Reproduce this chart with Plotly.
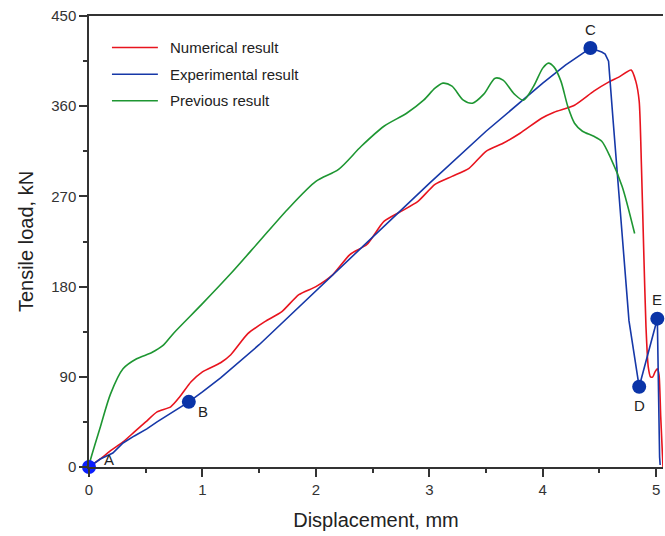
import plotly.graph_objects as go

# Numerical result (red)
num_x = [0, 0.1, 0.2, 0.3, 0.4, 0.5, 0.6, 0.72, 0.8, 0.9, 1.0, 1.16, 1.25, 1.4, 1.55, 1.7, 1.85, 2.0,
         2.15, 2.3, 2.45, 2.6, 2.75, 2.9, 3.05, 3.2, 3.35, 3.5, 3.65, 3.8, 3.99, 4.1, 4.28, 4.45, 4.58,
         4.67, 4.78, 4.82, 4.85, 4.87, 4.89, 4.91, 4.93, 4.95, 4.97, 4.99, 5.01, 5.025, 5.04, 5.06]
num_y = [0, 8, 17, 25, 35, 45, 55, 60, 70, 85, 95, 104, 112, 133, 145, 155, 172, 180,
         192, 212, 222, 245, 255, 265, 282, 290, 298, 315, 323, 333, 348, 354, 361, 375, 384,
         389, 396, 385, 365, 300, 216, 140, 100, 90, 90, 95, 98, 92, 50, 0]

# Experimental result (blue)
exp_x = [0, 0.04, 0.1, 0.21, 0.3, 0.4, 0.51, 0.6, 0.7, 0.8, 0.88, 1.0, 1.16, 1.5, 2.0, 2.5, 3.0, 3.5,
         4.0, 4.2, 4.42, 4.47, 4.52, 4.55, 4.58, 4.62, 4.69, 4.76, 4.85, 5.01, 5.03, 5.035]
exp_y = [0, 3, 8, 14, 24, 31, 38, 45, 52, 59, 65, 75, 89, 122, 176, 230, 283, 335,
         383, 401, 418, 416, 414, 412, 405, 346, 246, 146, 80, 148, 10, 2]

# Previous result (green)
prev_x = [0, 0.01, 0.1, 0.19, 0.3, 0.42, 0.55, 0.65, 0.75, 1.0, 1.25, 1.5, 1.75, 2.0, 2.2, 2.4, 2.6,
          2.8, 2.95, 3.05, 3.12, 3.2, 3.3, 3.38, 3.48, 3.58, 3.65, 3.75, 3.83, 3.92, 4.0, 4.05,
          4.1, 4.16, 4.22, 4.28, 4.35, 4.45, 4.52, 4.6, 4.7, 4.81]
prev_y = [0, 6, 40, 73, 98, 108, 114, 121, 134, 163, 193, 225, 257, 285, 297, 320, 340,
          353, 366, 378, 383, 380, 366, 363, 372, 388, 386, 372, 366, 380, 398, 403,
          399, 385, 360, 343, 335, 330, 325, 308, 280, 233]

# Key points on experimental curve
pt_labels = ["A", "B", "C", "D", "E"]
pt_x = [0, 0.88, 4.42, 4.85, 5.01]
pt_y = [0, 65, 418, 80, 148]
pt_xshift = [20, 14, 0, 0, 0]
pt_yshift = [8, -10, 19, -19, 19]

# Legend entries
legend_names = ["Numerical result", "Experimental result", "Previous result"]

RED = "#e8141e"
BLUE = "#1638a8"
GREEN = "#1e9632"
colors = [RED, BLUE, GREEN]

fig = go.Figure()
fig.add_trace(go.Scatter(x=num_x, y=num_y, mode="lines", name=legend_names[0],
                         line=dict(color=RED, width=1.6, shape="spline", smoothing=0.6),
                         showlegend=False, cliponaxis=False))
fig.add_trace(go.Scatter(x=exp_x, y=exp_y, mode="lines", name=legend_names[1],
                         line=dict(color=BLUE, width=1.6), showlegend=False, cliponaxis=False))
fig.add_trace(go.Scatter(x=prev_x, y=prev_y, mode="lines", name=legend_names[2],
                         line=dict(color=GREEN, width=1.6, shape="spline", smoothing=0.8),
                         showlegend=False, cliponaxis=False))
marker_colors = ["#0a1eff", "#0a34a8", "#0a34a8", "#0a34a8", "#0a34a8"]
fig.add_trace(go.Scatter(x=pt_x, y=pt_y, mode="markers", showlegend=False, cliponaxis=False,
                         marker=dict(size=14, color=marker_colors)))
for lab, px, py, xs, ys in zip(pt_labels, pt_x, pt_y, pt_xshift, pt_yshift):
    fig.add_annotation(x=px, y=py, text=lab, showarrow=False, xshift=xs, yshift=ys,
                       font=dict(family="Liberation Sans, Arial", size=15, color="#222"))

# Manual legend (longer line samples, as in the reference)
for i, (nm, c) in enumerate(zip(legend_names, colors)):
    yy = 0.930 - i * 0.059
    fig.add_shape(type="line", xref="paper", yref="paper", x0=0.040, x1=0.120, y0=yy, y1=yy,
                  line=dict(color=c, width=1.6))
    fig.add_annotation(xref="paper", yref="paper", x=0.137, y=yy, text=nm, showarrow=False,
                       xanchor="left", yanchor="middle",
                       font=dict(family="Liberation Sans, Arial", size=15, color="#222"))

axis_font = dict(family="Liberation Sans, Arial", size=15, color="#333")
fig.update_layout(
    width=665, height=536,
    margin=dict(l=89, r=2, t=16, b=69),
    plot_bgcolor="white", paper_bgcolor="white",
    font=dict(family="Liberation Sans, Arial", color="#222"),
    showlegend=False,
    xaxis=dict(range=[0, 5.06], dtick=1, tick0=0, showgrid=False, zeroline=False,
               showline=True, linecolor="#333", linewidth=1.5, mirror=True,
               ticks="outside", ticklen=8, tickwidth=1.5, tickcolor="#333",
               tickfont=axis_font,
               minor=dict(dtick=0.5, ticks="outside", ticklen=4, tickcolor="#333", tickwidth=1.5),
               title=dict(text="Displacement, mm", font=dict(size=20, color="#222"), standoff=16)),
    yaxis=dict(range=[0, 450], dtick=90, tick0=0, showgrid=False, zeroline=False,
               showline=True, linecolor="#333", linewidth=1.5,
               ticks="outside", ticklen=8, tickwidth=1.5, tickcolor="#333",
               tickfont=axis_font,
               minor=dict(dtick=45, ticks="outside", ticklen=4, tickcolor="#333", tickwidth=1.5),
               title=dict(text="Tensile load, kN", font=dict(size=20, color="#222"), standoff=12)),
)

fig.write_html("out.html")
